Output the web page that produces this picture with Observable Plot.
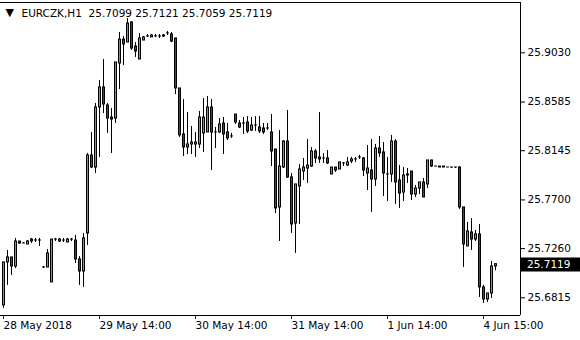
<!DOCTYPE html>
<html>
<head>
<meta charset="utf-8">
<script src="https://cdn.jsdelivr.net/npm/d3@7"></script>
<script src="https://cdn.jsdelivr.net/npm/@observablehq/plot@0.6"></script>
<style>
  html, body { margin: 0; padding: 0; background: #fff; }
  #chart { width: 580px; height: 340px; }
</style>
</head>
<body>
<div id="chart"></div>
<script>
const symbol = "EURCZK,H1";

const opens = [
25.6746,25.7135,25.7180,25.7098,25.7324,25.7306,25.7297,25.7342,25.7333,25.7333,
25.7089,25.7089,25.6954,25.7342,25.7324,25.7333,25.7315,25.7342,25.7333,25.7162,
25.7053,25.7397,25.8102,25.7993,25.8536,25.8717,25.8554,25.8445,25.8436,25.8934,
25.9150,25.9123,25.9304,25.9087,25.8970,25.9141,25.9178,25.9169,25.9178,25.9178,
25.9178,25.9205,25.9196,25.9160,25.8708,25.8292,25.8174,25.8201,25.8201,25.8201,
25.8301,25.8310,25.8536,25.8310,25.8310,25.8391,25.8310,25.8274,25.8472,25.8391,
25.8391,25.8400,25.8328,25.8373,25.8355,25.8346,25.8346,25.8310,25.8156,25.7632,
25.7993,25.8228,25.7903,25.7487,25.7822,25.7957,25.7984,25.8002,25.8138,25.8084,
25.8075,25.8075,25.7930,25.7993,25.7975,25.8030,25.8011,25.8048,25.8066,25.8084,
25.8075,25.7939,25.7966,25.7885,25.8165,25.8129,25.7930,25.7930,25.8228,25.7876,
25.7767,25.7921,25.7957,25.7749,25.7803,25.7858,25.7840,25.8057,25.8002,25.8002,
25.8002,25.7993,25.7993,25.7993,25.7993,25.7632,25.7279,25.7406,25.7342,25.7388,
25.6909,25.6800,25.6854,25.7099];

const highs = [
25.7135,25.7243,25.7180,25.7352,25.7324,25.7315,25.7333,25.7352,25.7352,25.7352,
25.7098,25.7252,25.7342,25.7352,25.7352,25.7352,25.7352,25.7352,25.7379,25.7189,
25.7397,25.8120,25.8310,25.8572,25.8780,25.8970,25.8572,25.8527,25.8943,25.9214,
25.9178,25.9340,25.9313,25.9123,25.9205,25.9178,25.9196,25.9196,25.9196,25.9196,
25.9196,25.9223,25.9214,25.9160,25.8708,25.8608,25.8491,25.8364,25.8310,25.8500,
25.8617,25.8635,25.8608,25.8355,25.8436,25.8445,25.8391,25.8301,25.8472,25.8418,
25.8445,25.8454,25.8445,25.8454,25.8454,25.8391,25.8391,25.8472,25.8156,25.8328,
25.8237,25.8509,25.7939,25.7840,25.8020,25.8075,25.8246,25.8174,25.8156,25.8491,
25.8120,25.8147,25.7993,25.7993,25.8039,25.8039,25.8084,25.8084,25.8084,25.8102,
25.8084,25.8192,25.8246,25.8201,25.8274,25.8219,25.8084,25.8283,25.8246,25.8011,
25.7993,25.7984,25.7957,25.7831,25.7858,25.7894,25.8057,25.8057,25.8002,25.8002,
25.8002,25.7993,25.7993,25.7993,25.8002,25.7632,25.7496,25.7532,25.7424,25.7478,
25.6927,25.6854,25.7144,25.7121];

const lows = [
25.6719,25.6927,25.7017,25.7080,25.7297,25.7306,25.7297,25.7306,25.7315,25.7279,
25.7080,25.7089,25.6954,25.7324,25.7315,25.7315,25.7315,25.7324,25.7125,25.6927,
25.6909,25.7288,25.7984,25.7939,25.8084,25.8481,25.8301,25.8120,25.8391,25.8698,
25.8915,25.9123,25.9051,25.8988,25.8970,25.9141,25.9169,25.9169,25.9169,25.9160,
25.9169,25.9187,25.9123,25.8653,25.8265,25.8093,25.8111,25.8111,25.8084,25.8165,
25.8129,25.8310,25.7966,25.8165,25.8301,25.8111,25.8237,25.8256,25.8382,25.8346,
25.8292,25.8301,25.8319,25.8319,25.8301,25.8292,25.8328,25.8002,25.7577,25.7324,
25.7984,25.7894,25.7397,25.7216,25.7478,25.7876,25.7849,25.7993,25.8030,25.8030,
25.8030,25.8020,25.7930,25.7948,25.7975,25.8002,25.8002,25.8030,25.8039,25.8066,
25.7912,25.7785,25.7587,25.7822,25.8084,25.7731,25.7686,25.7858,25.7659,25.7623,
25.7686,25.7849,25.7695,25.7722,25.7749,25.7722,25.7803,25.7993,25.8002,25.7993,
25.7993,25.7993,25.7984,25.7984,25.7614,25.7089,25.7279,25.7243,25.7324,25.6818,
25.6764,25.6773,25.6809,25.7059];

const closes = [
25.7135,25.7180,25.7098,25.7324,25.7306,25.7306,25.7324,25.7324,25.7333,25.7333,
25.7089,25.7216,25.7342,25.7342,25.7342,25.7333,25.7342,25.7342,25.7162,25.7053,
25.7352,25.8102,25.7993,25.8536,25.8717,25.8563,25.8436,25.8427,25.8943,25.9150,
25.9105,25.9295,25.9069,25.9042,25.9160,25.9169,25.9178,25.9187,25.9178,25.9178,
25.9187,25.9205,25.9132,25.8708,25.8283,25.8174,25.8201,25.8219,25.8219,25.8445,
25.8445,25.8536,25.8310,25.8310,25.8382,25.8292,25.8256,25.8274,25.8400,25.8355,
25.8391,25.8319,25.8373,25.8373,25.8319,25.8310,25.8346,25.8138,25.7623,25.8002,
25.8228,25.7903,25.7478,25.7840,25.7975,25.7993,25.8011,25.8138,25.8075,25.8066,
25.8075,25.8030,25.7993,25.7966,25.8039,25.8030,25.8039,25.8066,25.8066,25.8084,
25.7966,25.7984,25.7885,25.8165,25.8120,25.7939,25.7930,25.8228,25.7858,25.7758,
25.7921,25.7930,25.7749,25.7803,25.7858,25.7722,25.8057,25.8002,25.8002,25.7993,
25.7993,25.7993,25.7993,25.7993,25.7632,25.7297,25.7415,25.7342,25.7388,25.6909,
25.6800,25.6854,25.7098,25.7119];

const timeTickBars = [0, 24, 48, 72, 96, 120];
const timeTickLabels = ["28 May 2018", "29 May 14:00", "30 May 14:00", "31 May 14:00", "1 Jun 14:00", "4 Jun 15:00"];
const priceTicks = [25.9030, 25.8585, 25.8145, 25.7700, 25.7260, 25.6815];

const bullColor = "#32cd32";
const bearColor = "#f00000";
const fontFamily = "'DejaVu Sans', Tahoma, sans-serif";

const candles = opens.map((o, i) => ({i, o, h: highs[i], l: lows[i], c: closes[i], top: Math.max(o, closes[i]), bot: Math.min(o, closes[i])}));
const coloured = candles.filter(d => d.top - d.bot > 0.0012);
const last = candles[candles.length - 1];
const xDomain = [-0.75, 129.25];
const yDomain = [25.6655, 25.9485];

const chart = Plot.plot({
  width: 580,
  height: 340,
  marginLeft: 0,
  marginRight: 60,
  marginTop: 2,
  marginBottom: 25,
  x: {domain: xDomain, axis: null},
  y: {domain: yDomain, axis: null},
  style: {fontFamily, fontSize: "10.5px", background: "#fff", color: "#000", overflow: "visible"},
  marks: [
    Plot.ruleY(yDomain, {stroke: "#000"}),
    Plot.ruleX([xDomain[1]], {stroke: "#000"}),
    // wicks
    Plot.ruleX(candles, {x: "i", y1: "h", y2: "l", stroke: "#000", strokeWidth: 1}),
    // body outline (3px wide black)
    Plot.ruleX(candles, {x: "i", y1: "top", y2: "bot", insetTop: -0.5, insetBottom: -0.5, stroke: "#000", strokeWidth: 3}),
    // body fill (1px coloured core)
    Plot.ruleX(coloured, {x: "i", y1: "top", y2: "bot", insetTop: 0.5, insetBottom: 0.5, stroke: d => d.c > d.o ? bullColor : bearColor, strokeWidth: 1}),
    Plot.axisY({anchor: "right", label: null, ticks: priceTicks, tickFormat: d3.format(".4f"), tickSize: 4, tickPadding: 3, fill: "#000", stroke: "#000"}),
    Plot.axisX({anchor: "bottom", label: null, ticks: timeTickBars, tickFormat: d => timeTickLabels[timeTickBars.indexOf(d)], tickSize: 4, tickPadding: 2, textAnchor: "start", fill: "#000", stroke: "#000"}),
    Plot.text(["\u25BC"], {frameAnchor: "top-left", dx: 5, dy: 10, lineAnchor: "middle", textAnchor: "start", fontSize: 11, fill: "#000"}),
    Plot.text([`${symbol}\u00a0\u00a0${last.o.toFixed(4)} ${last.h.toFixed(4)} ${last.l.toFixed(4)} ${last.c.toFixed(4)}`], {frameAnchor: "top-left", dx: 21, dy: 11, lineAnchor: "middle", textAnchor: "start", fill: "#000"})
  ]
});

document.getElementById("chart").appendChild(chart);

// current price marker on the price scale
const svg = d3.select(chart);
const yc = chart.scale("y").apply(last.c) + 0.5;
const xr = chart.scale("x").apply(xDomain[1]) + 1;
svg.append("rect").attr("x", xr).attr("y", Math.round(yc) - 6.5).attr("width", 580 - xr).attr("height", 14).attr("fill", "#000");
svg.append("text").attr("x", xr + 6).attr("y", yc).attr("dy", "0.35em")
  .attr("text-anchor", "start")
  .attr("fill", "#fff").attr("font-family", fontFamily).attr("font-size", "10.5px")
  .text(last.c.toFixed(4));
</script>
</body>
</html>
